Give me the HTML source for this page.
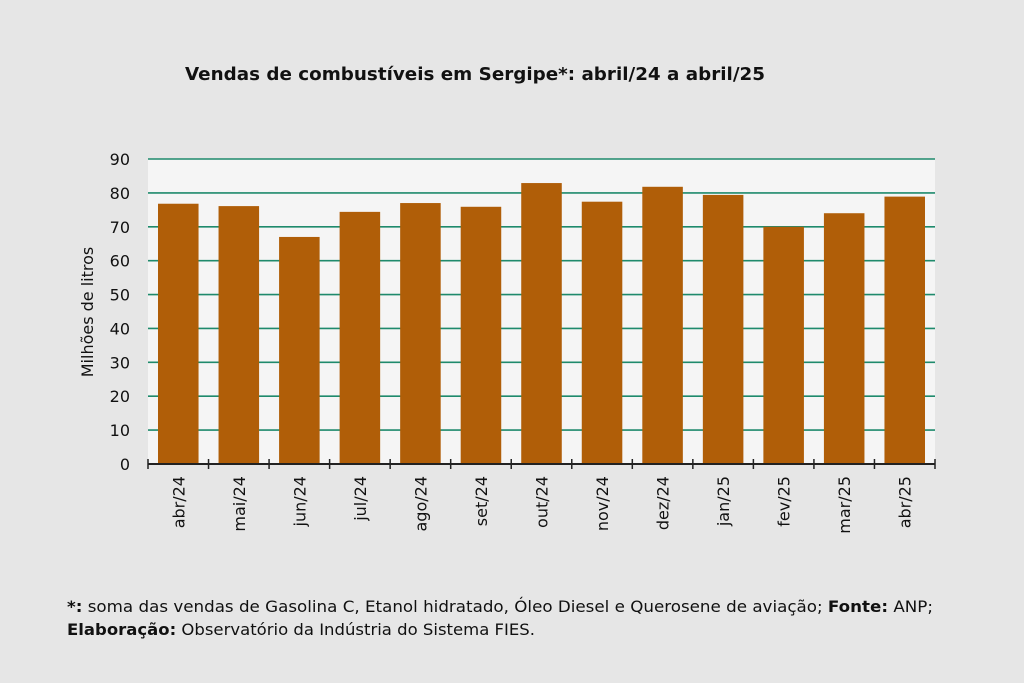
<!DOCTYPE html>
<html><head><meta charset="utf-8"><style>
body{margin:0;background:#e6e6e6;}
svg{display:block;font-family:"Liberation Sans","DejaVu Sans",sans-serif;}
</style></head><body>
<svg width="1024" height="683">
<rect x="0" y="0" width="1024" height="683" fill="#e6e6e6"/>
<text x="185" y="80" textLength="580" lengthAdjust="spacingAndGlyphs" font-size="18" font-weight="bold" fill="#111" font-family="DejaVu Sans, sans-serif">Vendas de combustíveis em Sergipe*: abril/24 a abril/25</text>
<rect x="148" y="159" width="787" height="305" fill="#f5f5f5"/>
<g id="grid"></g><g id="bars"></g><g id="axis"></g>
<text transform="translate(93,312) rotate(-90)" text-anchor="middle" font-size="16" fill="#111" font-family="DejaVu Sans, sans-serif">Milhões de litros</text>
<text x="67" y="612" textLength="866" lengthAdjust="spacingAndGlyphs" font-size="16" fill="#111" font-family="DejaVu Sans, sans-serif"><tspan font-weight="bold">*:</tspan> soma das vendas de Gasolina C, Etanol hidratado, Óleo Diesel e Querosene de aviação; <tspan font-weight="bold">Fonte:</tspan> ANP;</text>
<text x="67" y="635" textLength="468" lengthAdjust="spacingAndGlyphs" font-size="16" fill="#111" font-family="DejaVu Sans, sans-serif"><tspan font-weight="bold">Elaboração:</tspan> Observatório da Indústria do Sistema FIES.</text>
</svg>
<script>
const categories=["abr/24","mai/24","jun/24","jul/24","ago/24","set/24","out/24","nov/24","dez/24","jan/25","fev/25","mar/25","abr/25"];
const values=[76.8,76.1,67,74.4,77,75.9,82.9,77.4,81.8,79.4,70,74,78.9];
const yTicks=[0,10,20,30,40,50,60,70,80,90];
const NS="http://www.w3.org/2000/svg";
const x0=148,x1=935,yb=464,yt=159,ymax=90;
const cw=(x1-x0)/categories.length;
const y=v=>yb-(v/ymax)*(yb-yt);
function mk(t,a,p){const e=document.createElementNS(NS,t);for(const k in a)e.setAttribute(k,a[k]);p.appendChild(e);return e;}
const g=document.getElementById('grid'),b=document.getElementById('bars'),ax=document.getElementById('axis');
yTicks.forEach(t=>{
 if(t>0){const l=mk('line',{x1:x0,x2:x1,y1:y(t),y2:y(t),stroke:'#1f8a6c','stroke-width':1.6},g);
 
 }
 const tx=mk('text',{x:130,y:y(t)+6,'text-anchor':'end','font-size':16,fill:'#111','font-family':'DejaVu Sans, sans-serif'},ax);
 tx.textContent=t;
 
 
});
categories.forEach((c,i)=>{
 const r=mk('rect',{x:x0+i*cw+10,y:y(values[i]),width:cw-20,height:yb-y(values[i]),fill:'#b05e08'},b);
 
 
 const cx=x0+(i+0.5)*cw;
 const tx=mk('text',{transform:`translate(${cx+6},${yb+12}) rotate(-90)`,'text-anchor':'end','font-size':16,fill:'#111','font-family':'DejaVu Sans, sans-serif'},ax);
 tx.textContent=c;
 
 
});
const al=mk('line',{x1:x0,x2:x1,y1:yb,y2:yb,stroke:'#222','stroke-width':2},ax);


for(let i=0;i<=categories.length;i++){
 const tk=mk('line',{x1:x0+i*cw,x2:x0+i*cw,y1:yb-5,y2:yb+5,stroke:'#222','stroke-width':1.5},ax);
 
 
}
</script>
</body></html>
